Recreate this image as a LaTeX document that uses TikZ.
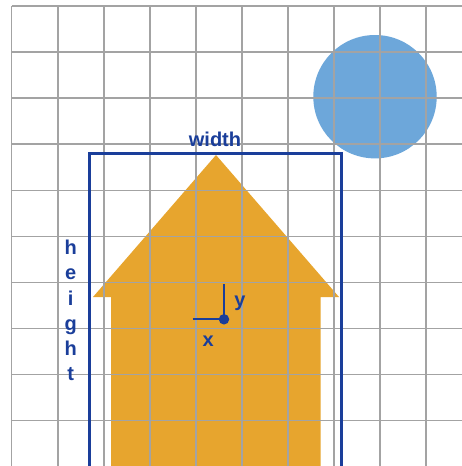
\documentclass[tikz,border=0pt]{standalone}
\usepackage{fontspec}
\setmainfont{Liberation Sans}
\definecolor{gridgray}{HTML}{A3A3A3}
\definecolor{housecol}{HTML}{E7A52E}
\definecolor{suncol}{HTML}{6DA7DA}
\definecolor{navy}{HTML}{1A3E9A}
\begin{document}
\begin{tikzpicture}[x=1pt,y=-1pt,
  lbl/.style={text=navy,font=\fontsize{20}{20}\selectfont\bfseries,inner sep=0pt,anchor=base},
  gridline/.style={gridgray,line width=1.5pt},
  frame/.style={navy,line width=3pt},
  axis/.style={navy,line width=2pt}]
\useasboundingbox (0,0) rectangle (462,466);
\fill[white] (0,0) rectangle (462,466);
% house
\fill[housecol] (216,155) -- (339,297) -- (320.5,297) -- (320.5,466) -- (111,466) -- (111,297) -- (93,297) -- cycle;
% sun
\fill[suncol] (375,96.7) circle (61.7);
% grid
\foreach \i in {0,...,9}{
  \draw[gridline] ({11.7+46.05*\i},6) -- ({11.7+46.05*\i},466);
  \draw[gridline] (11.7,{6+46.08*\i}) -- (462,{6+46.08*\i});
}
% bounding frame
\draw[frame] (89,466) -- (89,153.5) -- (341,153.5) -- (341,466);
% axes
\coordinate (xe) at (192.7,319.3);
\coordinate (ye) at (224,284);
\node[circle,fill=navy,inner sep=0pt,minimum size=10.5pt] (o) at (224,319.3) {};
\draw[axis] (xe) -- (o.center) -- (ye);
% labels
\node[lbl] (w) at (215,146) {width};
\node[lbl] (lx) at (208.3,346.5) {x};
\node[lbl] (ly) at (240,306.5) {y};
\foreach \c [count=\k from 0] in {h,e,i,g,h,t}{
  \node[lbl] (h\k) at (70.7,{254.7+25.2*\k}) {\c};
}
\end{tikzpicture}
\end{document}
